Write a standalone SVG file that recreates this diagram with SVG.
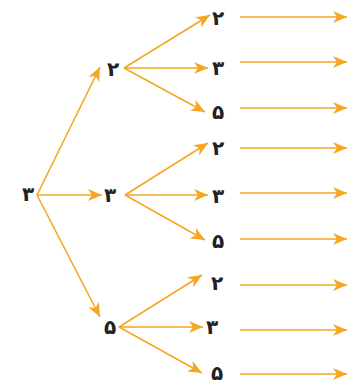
<svg xmlns="http://www.w3.org/2000/svg" width="353" height="385" viewBox="0 0 353 385">
<style>
.c line{stroke:#F5A623;stroke-width:1.6;fill:none;marker-end:url(#ah)}
text{font-family:"DejaVu Sans","Noto Sans",sans-serif;font-size:20px;font-weight:bold;fill:#222;text-anchor:middle;dominant-baseline:central}
</style>
<defs>
<marker id="ah" markerUnits="userSpaceOnUse" markerWidth="16" markerHeight="12" refX="14" refY="6" orient="auto">
<path d="M0,0 L14,6 L0,12 L4,6 z" fill="#F5A623"/>
</marker>
</defs>
<rect width="353" height="385" fill="#fff"/>
<g class="c" id="connectors">
<line x1="37" y1="195" x2="100" y2="67"/>
<line x1="37" y1="195" x2="102" y2="195"/>
<line x1="37" y1="195" x2="100" y2="317"/>
<line x1="124" y1="68" x2="210" y2="15"/>
<line x1="124" y1="68" x2="208" y2="68"/>
<line x1="124" y1="68" x2="205" y2="112"/>
<line x1="125" y1="195" x2="208" y2="143"/>
<line x1="125" y1="195" x2="208" y2="195"/>
<line x1="125" y1="195" x2="205" y2="240"/>
<line x1="119" y1="327" x2="202" y2="275"/>
<line x1="119" y1="327" x2="203" y2="327"/>
<line x1="119" y1="327" x2="202" y2="373"/>
<line x1="240" y1="17" x2="347" y2="17"/>
<line x1="240" y1="62" x2="347" y2="62"/>
<line x1="240" y1="108" x2="347" y2="108"/>
<line x1="240" y1="148" x2="347" y2="148"/>
<line x1="240" y1="193" x2="347" y2="193"/>
<line x1="240" y1="239" x2="347" y2="239"/>
<line x1="240" y1="285" x2="347" y2="285"/>
<line x1="240" y1="330" x2="347" y2="330"/>
<line x1="240" y1="374" x2="347" y2="374"/>
</g>
<g id="root"><text x="28" y="194">۳</text></g>
<g id="n2"><text x="113" y="69">۲</text></g>
<g id="n3"><text x="110" y="195">۳</text></g>
<g id="n5"><text x="110" y="327">۵</text></g>
<g id="n22"><text x="218" y="18">۲</text></g>
<g id="n23"><text x="218" y="68">۳</text></g>
<g id="n25"><text x="218" y="112">۵</text></g>
<g id="n32"><text x="218" y="148">۲</text></g>
<g id="n33"><text x="218" y="196">۳</text></g>
<g id="n35"><text x="218" y="241">۵</text></g>
<g id="n52"><text x="217" y="283">۲</text></g>
<g id="n53"><text x="212" y="327">۳</text></g>
<g id="n55"><text x="217" y="373">۵</text></g>
</svg>
